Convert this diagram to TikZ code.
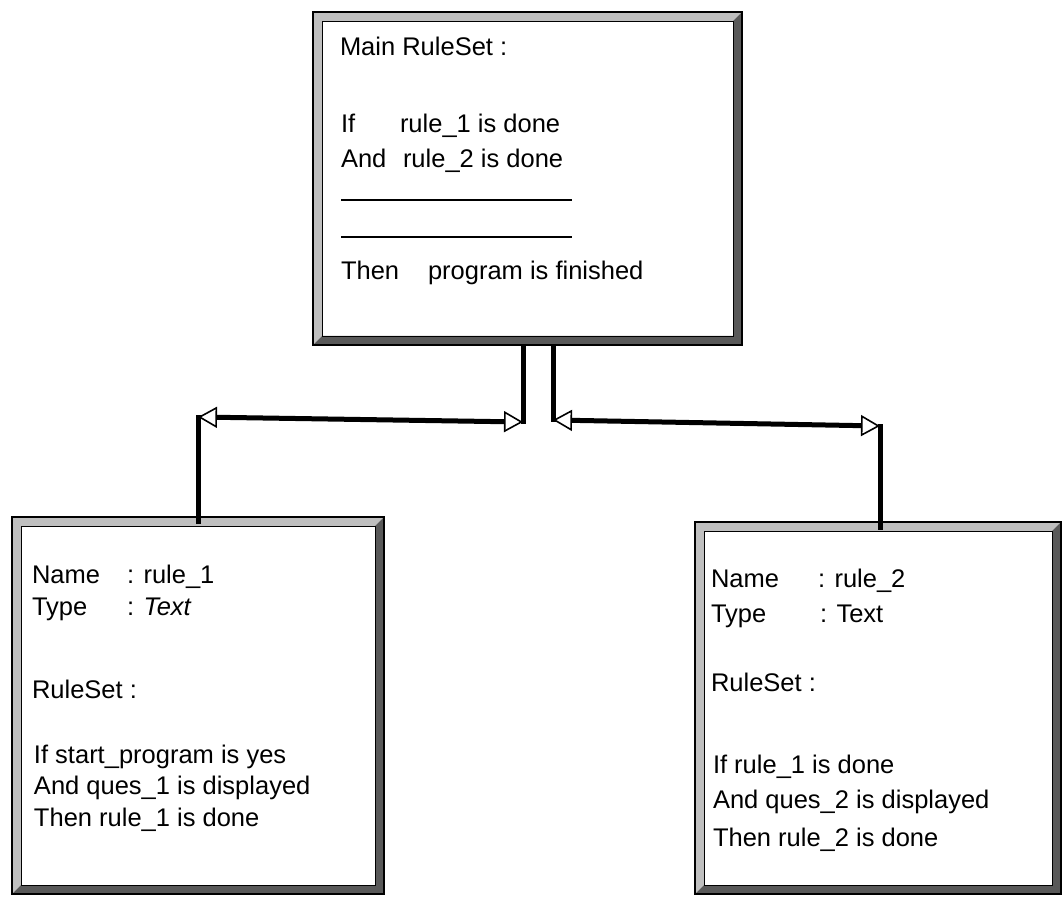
\documentclass[tikz,border=0pt]{standalone}
\usepackage{fontspec}
\setmainfont{Liberation Sans}
\usetikzlibrary{arrows.meta}

\tikzset{
  panel/.style={rectangle, inner sep=0pt, outer sep=0pt},
  lbl/.style={anchor=base west, inner sep=0pt, outer sep=0pt, font=\fontsize{25.5}{30}\selectfont},
  conn/.style={line width=5pt, line cap=butt},
  opentips/.style={{Triangle[open, length=19pt, width=21pt, line width=1.6pt]}-{Triangle[open, length=19pt, width=21pt, line width=1.6pt]}},
  lightedge/.style={fill=black!25},
  darkedge/.style={fill=black!65},
  ruleline/.style={line width=2pt},
}

% bevelled frame around a panel node: light top/left, dark bottom/right
\newcommand\bevelframe[2]{%
  \fill[lightedge] (#1.north west) -- (#1.north east)
    -- ([shift={(-#2,-#2)}]#1.north east) -- ([shift={(#2,-#2)}]#1.north west)
    -- ([shift={(#2,#2)}]#1.south west) -- (#1.south west) -- cycle;
  \fill[darkedge] (#1.north east) -- (#1.south east) -- (#1.south west)
    -- ([shift={(#2,#2)}]#1.south west) -- ([shift={(-#2,#2)}]#1.south east)
    -- ([shift={(-#2,-#2)}]#1.north east) -- cycle;
  \draw[line width=0.6pt] ([shift={(#2,-#2)}]#1.north west) rectangle ([shift={(-#2,#2)}]#1.south east);
  \draw[line width=1.3pt] (#1.north west) rectangle (#1.south east);
}

\begin{document}
\begin{tikzpicture}[x=1pt, y=-1pt]
\useasboundingbox (0,0) rectangle (1063,901);

% panels
\node[panel, minimum width=429pt, minimum height=333pt] (main) at (527.5,178.5) {};
\node[panel, minimum width=372pt, minimum height=377pt] (rulea) at (198,705.5) {};
\node[panel, minimum width=366pt, minimum height=372pt] (ruleb) at (878,708) {};

\bevelframe{main}{9pt}
\bevelframe{rulea}{9pt}
\bevelframe{ruleb}{9pt}

% main rule set
\node[lbl] (mtitle) at (340,56) {Main RuleSet :};
\node[lbl] (mif) at (341,133) {If};
\node[lbl] (mifv) at (400,133) {rule\_1 is done};
\node[lbl] (mand) at (341,168) {And};
\node[lbl] (mandv) at (403,168) {rule\_2 is done};
\draw[ruleline] (341,200) -- (572,200);
\draw[ruleline] (341,237) -- (572,237);
\node[lbl] (mthen) at (341,280) {Then};
\node[lbl] (mthenv) at (428,280) {program is finished};

% rule_1
\node[lbl] (aname) at (32,583) {Name};
\node[lbl] (anamev) at (127,583) {: rule\_1};
\node[lbl] (atype) at (32,615) {Type};
\node[lbl] (atypev) at (127,615) {: \textit{Text}};
\node[lbl] (aset) at (32,698) {RuleSet :};
\node[lbl] (aif) at (34,763) {If start\_program is yes};
\node[lbl] (aand) at (34,794) {And ques\_1 is displayed};
\node[lbl] (athen) at (34,826) {Then rule\_1 is done};

% rule_2
\node[lbl] (bname) at (711,587) {Name};
\node[lbl] (bnamev) at (818,587) {: rule\_2};
\node[lbl] (btype) at (711,622) {Type};
\node[lbl] (btypev) at (820,622) {: Text};
\node[lbl] (bset) at (711,691) {RuleSet :};
\node[lbl] (bif) at (713,773) {If rule\_1 is done};
\node[lbl] (band) at (713,808) {And ques\_2 is displayed};
\node[lbl] (bthen) at (713,846) {Then rule\_2 is done};

% connectors
\coordinate (jl) at (523,422);
\coordinate (kl) at (198,417);
\coordinate (jr) at (553,420);
\coordinate (kr) at (880,426);

\draw[conn] (main.south -| jl) -- ([yshift=-2pt]jl);
\draw[conn, opentips] (kl) -- (jl);
\draw[conn] ([yshift=2pt]kl) -- ([yshift=-7pt]rulea.north -| kl);

\draw[conn] (main.south -| jr) -- ([yshift=-2pt]jr);
\draw[conn, opentips] (jr) -- (kr);
\draw[conn] ([yshift=2pt]kr) -- ([yshift=-8pt]ruleb.north -| kr);
\end{tikzpicture}
\end{document}
